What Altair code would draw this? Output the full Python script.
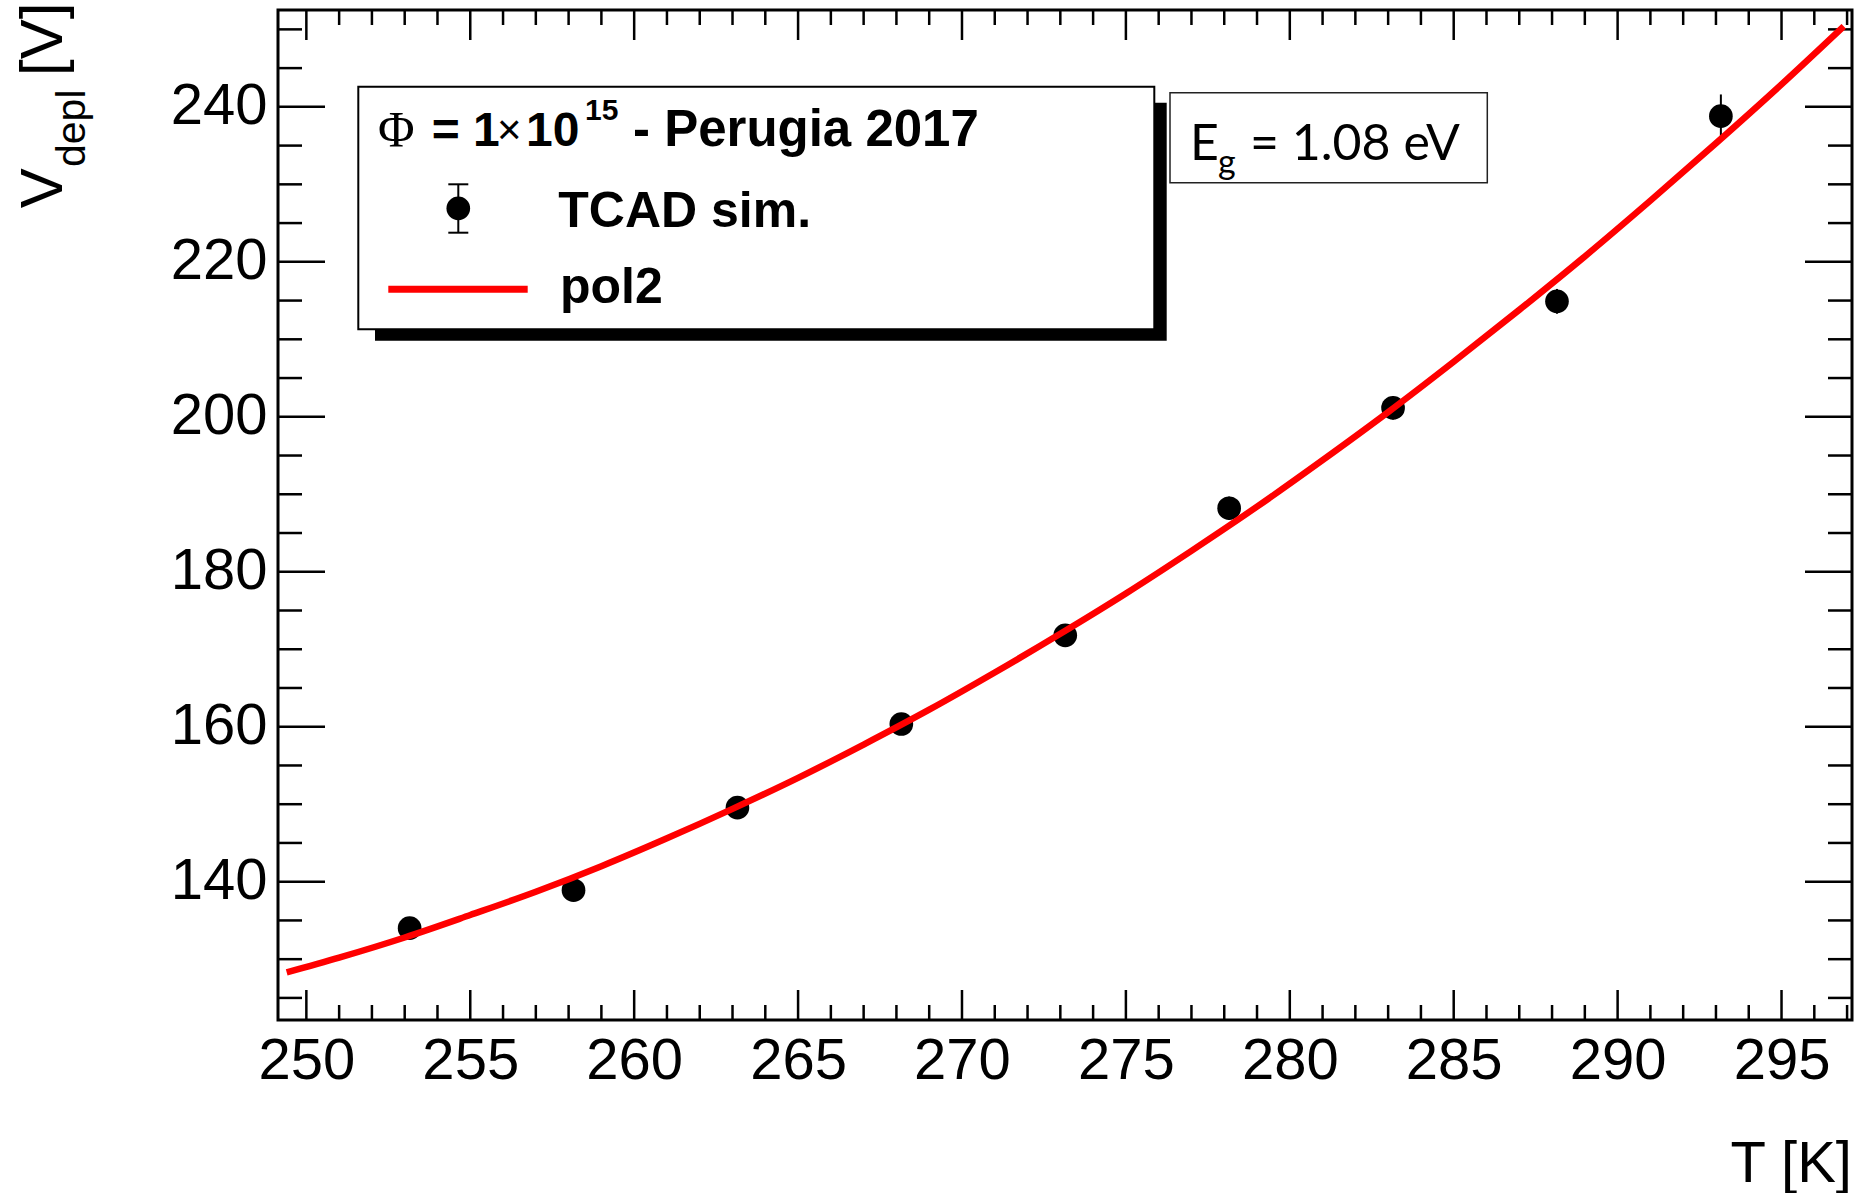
import altair as alt
import pandas as pd

# Simulated depletion voltage versus temperature
temperature = [253.15, 258.15, 263.15, 268.15, 273.15, 278.15, 283.15, 288.15, 293.15]
v_depl = [134.0, 138.9, 149.55, 160.35, 171.8, 188.2, 201.15, 214.9, 238.8]
v_err = [1.2, 1.2, 1.3, 1.4, 1.4, 1.5, 1.5, 1.6, 2.8]

# Second-order polynomial fit, sampled along the fitted range
fit_t = [249.4, 251, 253, 255, 257, 259, 261, 263, 265, 267, 269, 271, 273,
         275, 277, 279, 281, 283, 285, 287, 289, 291, 293, 295, 296.9]
fit_v = [128.3, 130.2, 132.8, 135.7, 138.7, 142.0, 145.6, 149.4, 153.4, 157.7,
         162.2, 167.0, 172.0, 177.2, 182.7, 188.4, 194.4, 200.6, 207.1, 213.8,
         220.7, 227.9, 235.3, 242.9, 250.4]

# Axis ticks
x_major = [250, 255, 260, 265, 270, 275, 280, 285, 290, 295]
x_minor = [t for t in range(250, 298) if t not in x_major]
y_major = [140, 160, 180, 200, 220, 240]
y_minor = [v for v in range(125, 255, 5) if v not in y_major]

X_DOMAIN = [249.135, 297.15]
Y_DOMAIN = [122.15, 252.5]
W, H = 1574, 1010

SANS = "Liberation Sans"
xs = alt.Scale(domain=X_DOMAIN, nice=False, zero=False)
ys = alt.Scale(domain=Y_DOMAIN, nice=False, zero=False)

# one shared axis definition per direction, used by every layer
AX = alt.Axis(values=x_major, format="d", ticks=False, domain=False, grid=False,
              labelFont=SANS, labelFontSize=58, labelColor="black",
              labelPadding=12, labelFlush=False, labelOverlap=False, title=None)
AY = alt.Axis(values=y_major, format="d", ticks=False, domain=False, grid=False,
              labelFont=SANS, labelFontSize=58, labelColor="black",
              labelPadding=11, labelFlush=False, labelOverlap=False, title=None)

pts = pd.DataFrame({"T": temperature, "V": v_depl, "err": v_err})
pts["lo"] = pts["V"] - pts["err"]
pts["hi"] = pts["V"] + pts["err"]
fit = pd.DataFrame({"T": fit_t, "V": fit_v})
one = pd.DataFrame({"k": [0]})

layers = []

# data markers with error bars
markers = alt.Chart(pts).mark_point(
    filled=True, shape="circle", size=560, color="black", opacity=1
).encode(
    x=alt.X("T:Q", scale=xs, axis=AX),
    y=alt.Y("V:Q", scale=ys, axis=AY),
)
errbars = alt.Chart(pts).mark_rule(color="black", strokeWidth=2).encode(
    x=alt.X("T:Q", scale=xs, axis=AX),
    y=alt.Y("lo:Q", scale=ys, axis=AY),
    y2="hi:Q",
)
layers += [markers, errbars]

# inward tick marks on all four sides
def x_ticks(vals, length):
    d = pd.DataFrame({"T": vals})
    base = alt.Chart(d).mark_rule(color="black", strokeWidth=2.5)
    bottom = base.encode(x=alt.X("T:Q", scale=xs, axis=AX),
                         y=alt.value(H), y2=alt.value(H - length))
    top = base.encode(x=alt.X("T:Q", scale=xs, axis=AX),
                      y=alt.value(0), y2=alt.value(length))
    return [bottom, top]

def y_ticks(vals, length):
    d = pd.DataFrame({"V": vals})
    base = alt.Chart(d).mark_rule(color="black", strokeWidth=2.5)
    left = base.encode(y=alt.Y("V:Q", scale=ys, axis=AY),
                       x=alt.value(0), x2=alt.value(length))
    right = base.encode(y=alt.Y("V:Q", scale=ys, axis=AY),
                        x=alt.value(W), x2=alt.value(W - length))
    return [left, right]

layers += x_ticks(x_major, 30) + x_ticks(x_minor, 15)
layers += y_ticks(y_major, 47) + y_ticks(y_minor, 24)

# fitted curve on top of the markers
curve = alt.Chart(fit).mark_line(
    color="#ff0000", strokeWidth=6.5, interpolate="monotone"
).encode(
    x=alt.X("T:Q", scale=xs, axis=AX),
    y=alt.Y("V:Q", scale=ys, axis=AY),
)
layers += [curve]

def rect(x1, y1, x2, y2, **kw):
    return alt.Chart(one).mark_rect(**kw).encode(
        x=alt.value(x1), x2=alt.value(x2), y=alt.value(y1), y2=alt.value(y2))

def rule(x1, y1, x2, y2, **kw):
    return alt.Chart(one).mark_rule(**kw).encode(
        x=alt.value(x1), x2=alt.value(x2), y=alt.value(y1), y2=alt.value(y2))

def text(s, x, y, size, font=SANS, weight="normal", angle=0, **kw):
    return alt.Chart(one).mark_text(
        text=s, font=font, fontSize=size, fontWeight=weight, align="left",
        baseline="alphabetic", color="black", angle=angle, **kw
    ).encode(x=alt.value(x), y=alt.value(y))

# legend with drop shadow
layers += [
    rect(97, 92.7, 888.7, 330.7, color="black"),
    rect(80.3, 76.7, 876.3, 319.3, fill="white", stroke="black", strokeWidth=2),
    text("\u03a6", 100, 135.7, 50, font="Liberation Serif"),
    text("= 1", 153.7, 135.7, 48, weight="bold"),
    text("\u00d7", 219, 134, 42),
    text("10", 248, 135.7, 48, weight="bold"),
    text("15", 307, 110, 30, weight="bold"),
    text("- Perugia 2017", 355, 135.7, 51, weight="bold"),
    rule(180.3, 174.3, 180.3, 222.7, color="black", strokeWidth=2),
    rule(170.3, 174.3, 190.3, 174.3, color="black", strokeWidth=2),
    rule(170.3, 222.7, 190.3, 222.7, color="black", strokeWidth=2),
    alt.Chart(one).mark_point(filled=True, shape="circle", size=560,
                              color="black", opacity=1).encode(
        x=alt.value(180.3), y=alt.value(198.3)),
    text("TCAD sim.", 280.3, 216.7, 50, weight="bold"),
    rule(110.3, 279.3, 249.7, 279.3, color="#ff0000", strokeWidth=7),
    text("pol2", 282, 292.7, 50, weight="bold"),
]

# band-gap annotation
layers += [
    rect(892, 82.7, 1209.3, 172.7, fill="white", stroke="#222222", strokeWidth=1.5),
    text("E", 912, 150, 50, font="Lato"),
    text("g", 940, 163.7, 34, font="Lato"),
    text("= 1.08 eV", 972, 150, 50, font="Lato"),
]

# axis titles
layers += [
    alt.Chart(one).mark_text(
        text="T [K]", font=SANS, fontSize=58, align="right",
        baseline="alphabetic", color="black"
    ).encode(x=alt.value(W), y=alt.value(1171.5)),
    text("V", -216.3, 198.3, 60, angle=270),
    text("depl", -193, 157, 41, angle=270),
    text("[V]", -216.3, 66, 60, angle=270),
]

chart = alt.layer(*layers).properties(
    width=W, height=H,
    autosize=alt.AutoSizeParams(type="none"),
    padding={"left": 278, "top": 10, "right": 5, "bottom": 173},
    background="white",
).configure_view(stroke="black", strokeWidth=3)

chart.save("out.html", embed_options={"renderer": "svg", "actions": False})
